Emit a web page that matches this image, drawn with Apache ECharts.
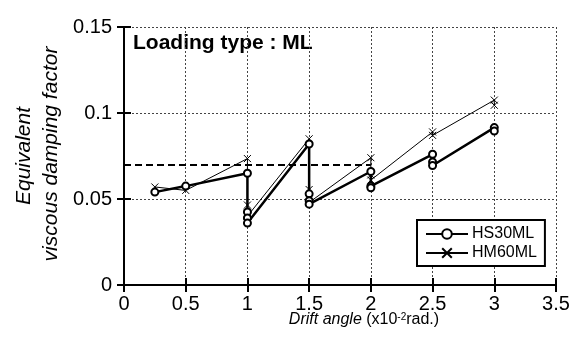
<!DOCTYPE html>
<html>
<head>
<meta charset="utf-8">
<script src="https://cdn.jsdelivr.net/npm/echarts@6/dist/echarts.min.js"></script>
<style>
  html, body { margin: 0; padding: 0; background: #fff; }
  #chart { width: 578px; height: 342px; }
</style>
</head>
<body>
<div id="chart"></div>
<script>
// drift angle (x10^-2 rad) / damping factor, one point per cycle
const hsX = [0.25, 0.5, 1, 1, 1, 1, 1.5, 1.5, 1.5, 1.5, 2, 2, 2, 2.5, 2.5, 2.5, 3, 3];
const hsY = [0.054, 0.0575, 0.065, 0.0425, 0.039, 0.036, 0.082, 0.053, 0.049, 0.047, 0.066, 0.0575, 0.0565, 0.076, 0.0715, 0.0695, 0.0915, 0.0895];
const hmX = [0.25, 0.5, 1, 1, 1, 1, 1.5, 1.5, 1.5, 1.5, 2, 2, 2, 2.5, 2.5, 3, 3];
const hmY = [0.057, 0.055, 0.0735, 0.0465, 0.042, 0.040, 0.085, 0.0555, 0.050, 0.048, 0.074, 0.064, 0.061, 0.089, 0.087, 0.1075, 0.1045];
const seriesNames = ['HS30ML', 'HM60ML'];
const refLevel = 0.07;
const refEnd = 2;

const font = 'Liberation Sans, Arial, sans-serif';
const pairs = (xs, ys) => xs.map((x, i) => [x, ys[i]]);

const frameAxis = {
  axisLine: { lineStyle: { color: '#000', width: 2 } },
  axisTick: { inside: true, length: 7, lineStyle: { color: '#000', width: 2 } }
};

const chart = echarts.init(document.getElementById('chart'));
chart.setOption({
  animation: false,
  backgroundColor: '#fff',
  grid: { left: 124, top: 27, right: 22, bottom: 57 },
  xAxis: [
    Object.assign({
      type: 'value', min: 0, max: 3.5, interval: 0.5,
      axisLabel: { color: '#000', fontFamily: font, fontSize: 20, margin: 9 },
      splitLine: { show: true, lineStyle: { color: '#444', width: 1, type: [2, 2] } }
    }, frameAxis),
    Object.assign({
      type: 'value', min: 0, max: 3.5, interval: 0.5, position: 'top',
      axisLabel: { show: false }, splitLine: { show: false }
    }, frameAxis)
  ],
  yAxis: [
    Object.assign({
      type: 'value', min: 0, max: 0.15, interval: 0.05,
      axisLabel: { color: '#000', fontFamily: font, fontSize: 20, margin: 12 },
      splitLine: { show: true, lineStyle: { color: '#444', width: 1, type: [2, 2] } }
    }, frameAxis),
    Object.assign({
      type: 'value', min: 0, max: 0.15, interval: 0.05, position: 'right',
      axisLabel: { show: false }, splitLine: { show: false }
    }, frameAxis)
  ],
  legend: {
    orient: 'vertical',
    left: 417, top: 220,
    padding: [6, 8, 5, 8],
    itemWidth: 42, itemHeight: 12, itemGap: 3,
    backgroundColor: '#fff',
    borderColor: '#000', borderWidth: 2,
    selectedMode: false,
    textStyle: { color: '#000', fontFamily: font, fontSize: 16, padding: [0, 0, 0, -1] },
    data: seriesNames
  },
  series: [
    {
      name: seriesNames[0], type: 'line',
      data: pairs(hsX, hsY),
      symbol: 'emptyCircle', symbolSize: 7,
      lineStyle: { color: '#000', width: 2.5 },
      itemStyle: { color: '#000', borderColor: '#000', borderWidth: 1.2 },
      z: 3,
      markLine: {
        silent: true, symbol: 'none', label: { show: false },
        lineStyle: { color: '#000', width: 2, type: [7, 4] },
        data: [[{ coord: [0, refLevel] }, { coord: [refEnd, refLevel] }]]
      }
    },
    {
      name: seriesNames[1], type: 'line',
      data: pairs(hmX, hmY),
      symbol: 'path://M0,0L10,10M10,0L0,10', symbolSize: 7,
      lineStyle: { color: '#000', width: 1 },
      itemStyle: { color: 'rgba(0,0,0,0)', borderColor: '#000', borderWidth: 1 },
      z: 2
    }
  ],
  graphic: [
    {
      type: 'text', left: 133, top: 33,
      style: { text: 'Loading type : ML', font: 'bold 21px ' + font, fill: '#000' }
    },
    {
      type: 'text', x: 364, y: 320,
      style: {
        text: '{i|Drift angle} (x10{s|-2}rad.)',
        align: 'center', verticalAlign: 'middle',
        font: '16px ' + font, fill: '#000',
        rich: {
          i: { fontStyle: 'italic', fontSize: 16, fontFamily: font },
          s: { fontSize: 10, fontFamily: font, verticalAlign: 'top', lineHeight: 10 }
        }
      }
    },
    {
      type: 'text', x: 24, y: 156, rotation: Math.PI / 2,
      style: { text: 'Equivalent', align: 'center', verticalAlign: 'middle',
        font: 'italic 21px ' + font, fill: '#000' }
    },
    {
      type: 'text', x: 51, y: 154, rotation: Math.PI / 2,
      style: { text: 'viscous damping factor', align: 'center', verticalAlign: 'middle',
        font: 'italic 21px ' + font, fill: '#000' }
    }
  ]
});
</script>
</body>
</html>
